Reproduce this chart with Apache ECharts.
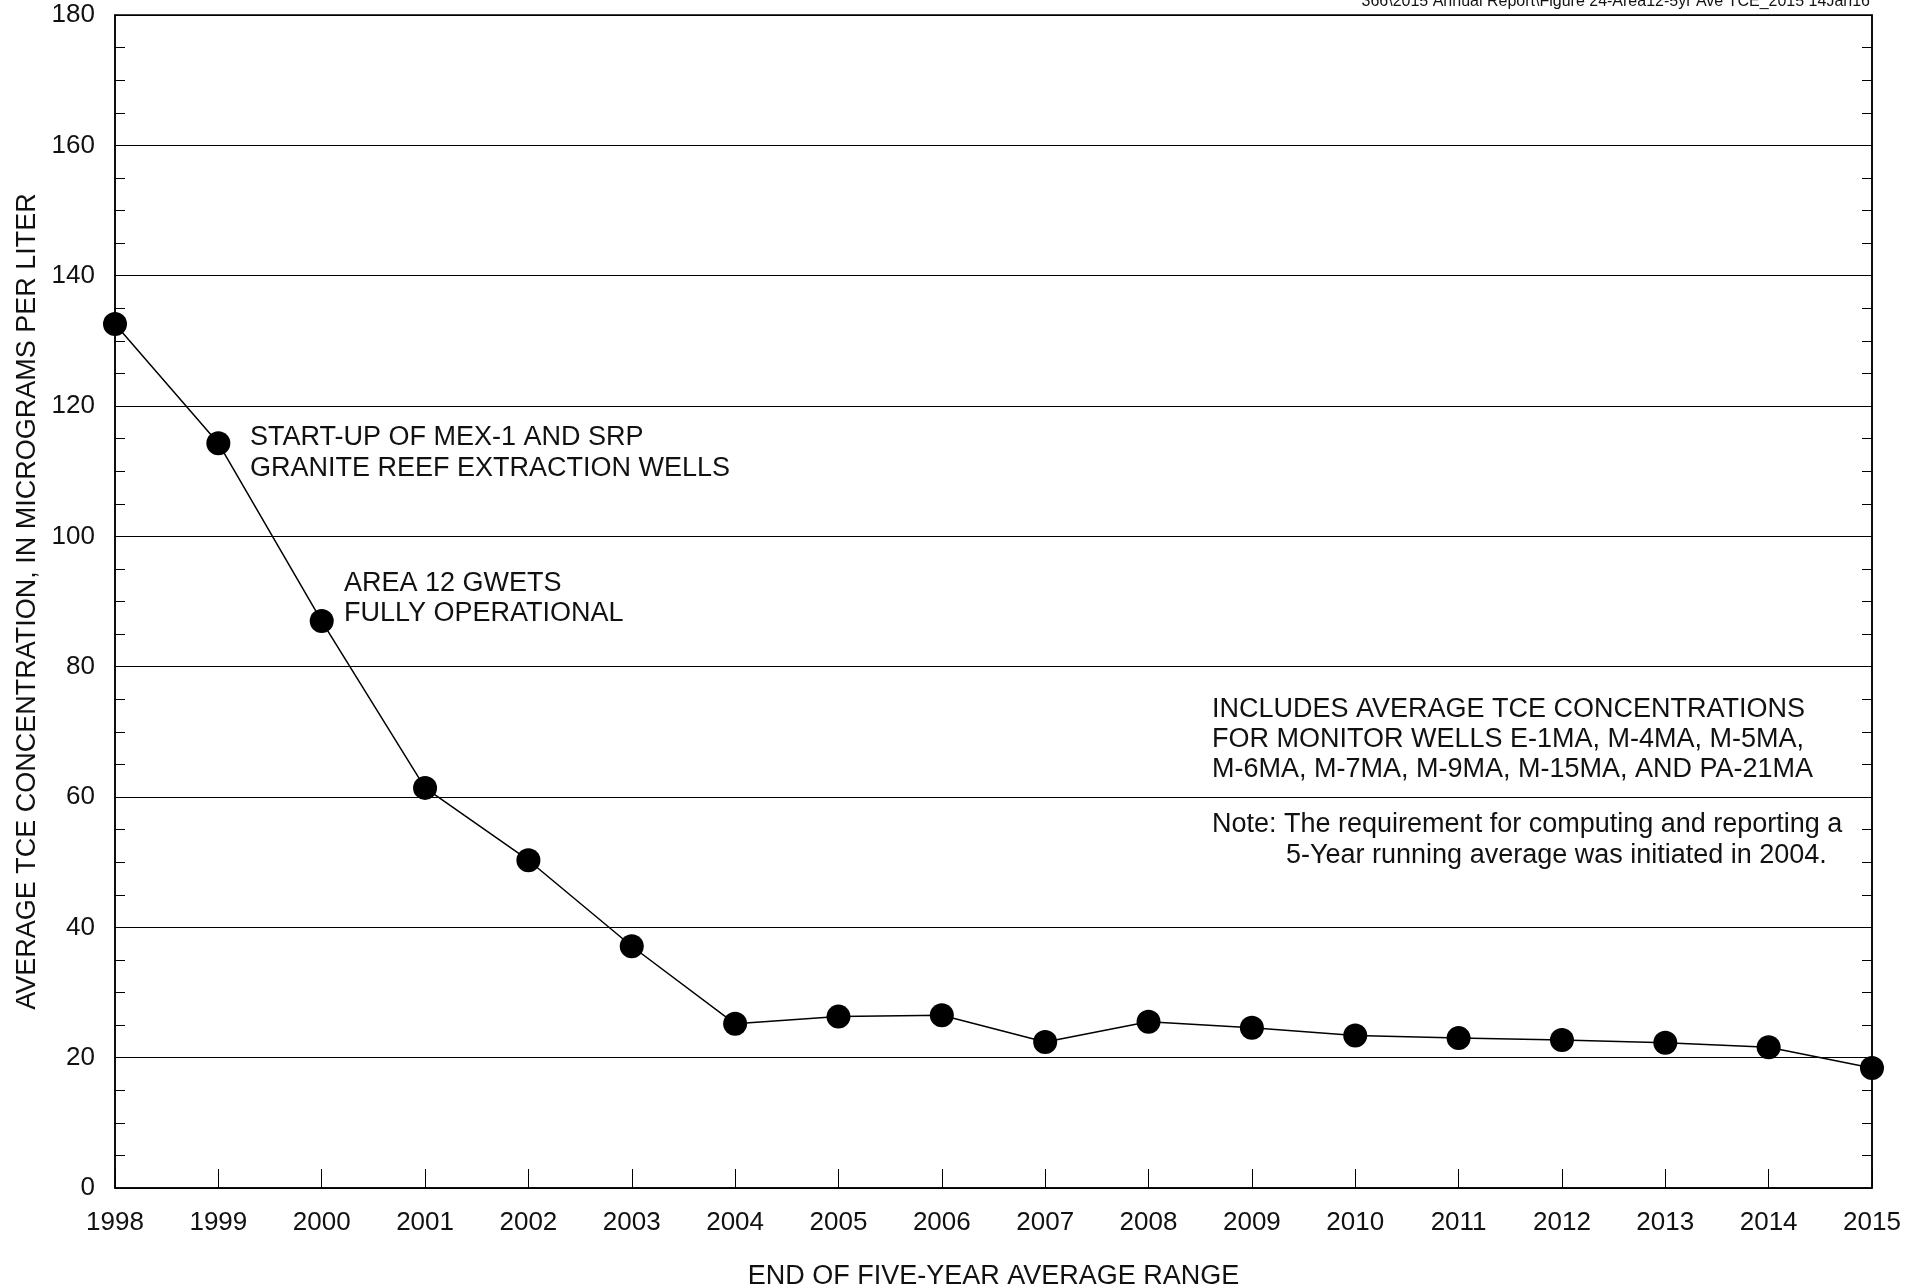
<!DOCTYPE html>
<html>
<head>
<meta charset="utf-8">
<script src="https://cdn.jsdelivr.net/npm/echarts@6/dist/echarts.min.js"></script>
<style>
html,body{margin:0;padding:0;background:#fff;}
#c{width:1921px;height:1287px;}
</style>
</head>
<body>
<div id="c"></div>
<script>
const years = ['1998','1999','2000','2001','2002','2003','2004','2005','2006','2007','2008','2009','2010','2011','2012','2013','2014','2015'];
const tceAverage = [132.6, 114.3, 87.0, 61.4, 50.3, 37.1, 25.2, 26.3, 26.5, 22.4, 25.5, 24.6, 23.4, 23.0, 22.7, 22.3, 21.6, 18.4];
const yTitle = 'AVERAGE TCE CONCENTRATION, IN MICROGRAMS PER LITER';
const xTitle = 'END OF FIVE-YEAR AVERAGE RANGE';
const note1 = ['START-UP OF MEX-1 AND SRP', 'GRANITE REEF EXTRACTION WELLS'];
const note2 = ['AREA 12 GWETS', 'FULLY OPERATIONAL'];
const note3 = ['INCLUDES AVERAGE TCE CONCENTRATIONS', 'FOR MONITOR WELLS E-1MA, M-4MA, M-5MA,', 'M-6MA, M-7MA, M-9MA, M-15MA, AND PA-21MA'];
const note4 = ['Note: The requirement for computing and reporting a', '5-Year running average was initiated in 2004.'];
const fileRef = '366\\2015 Annual Report\\Figure 24-Area12-5yr Ave TCE_2015 14Jan16';

const FONT = '"Liberation Sans", Arial, sans-serif';
const chart = echarts.init(document.getElementById('c'), null, {renderer: 'canvas'});

const yAxisCommon = {
  type: 'value', min: 0, max: 180, interval: 20,
  axisLine: {show: true, lineStyle: {color: '#000', width: 1.5}},
  axisTick: {show: false, inside: true, length: 10},
  minorTick: {show: true, splitNumber: 4, length: 10, lineStyle: {color: '#000', width: 1}},
};

chart.setOption({
  animation: false,
  backgroundColor: '#fff',
  grid: {left: 115, right: 49, top: 15, bottom: 99, outerBoundsMode: 'none', containLabel: false,
         show: true, borderColor: '#000', borderWidth: 1.5, backgroundColor: 'transparent'},
  xAxis: {
    type: 'category', data: years, boundaryGap: false,
    axisLine: {lineStyle: {color: '#000', width: 1.5}},
    axisTick: {show: true, inside: true, length: 19, lineStyle: {color: '#000', width: 1}},
    axisLabel: {color: '#111', fontSize: 26, fontFamily: FONT, margin: 22, interval: 0},
    splitLine: {show: false},
    name: xTitle, nameLocation: 'middle', nameGap: 75,
    nameTextStyle: {color: '#111', fontSize: 27, fontFamily: FONT}
  },
  yAxis: [
    Object.assign({}, yAxisCommon, {
      position: 'left',
      axisLabel: {color: '#111', fontSize: 26, fontFamily: FONT, margin: 20},
      splitLine: {show: true, lineStyle: {color: '#000', width: 1.2}},
      name: yTitle, nameLocation: 'middle', nameGap: 74,
      nameTextStyle: {color: '#111', fontSize: 27, fontFamily: FONT}
    }),
    Object.assign({}, yAxisCommon, {
      position: 'right',
      axisLabel: {show: false},
      splitLine: {show: false}
    })
  ],
  series: [{
    type: 'line', data: tceAverage, yAxisIndex: 0,
    symbol: 'circle', symbolSize: 24,
    itemStyle: {color: '#000'},
    lineStyle: {color: '#000', width: 1.5},
    z: 5
  }],
  graphic: [
    {type: 'text', right: 51, top: -6, style: {text: fileRef, font: '16px ' + FONT, fill: '#111'}},
    {type: 'text', left: 250, top: 422, style: {text: note1.join('\n'), font: '27px ' + FONT, fill: '#111', lineHeight: 31}},
    {type: 'text', left: 344, top: 569, style: {text: note2.join('\n'), font: '27px ' + FONT, fill: '#111', lineHeight: 30}},
    {type: 'text', left: 1212, top: 695, style: {text: note3.join('\n'), font: '27px ' + FONT, fill: '#111', lineHeight: 30}},
    {type: 'text', left: 1212, top: 811, style: {text: note4[0], font: '27px ' + FONT, fill: '#111'}},
    {type: 'text', left: 1286, top: 842, style: {text: note4[1], font: '27px ' + FONT, fill: '#111'}}
  ]
});
</script>
</body>
</html>
